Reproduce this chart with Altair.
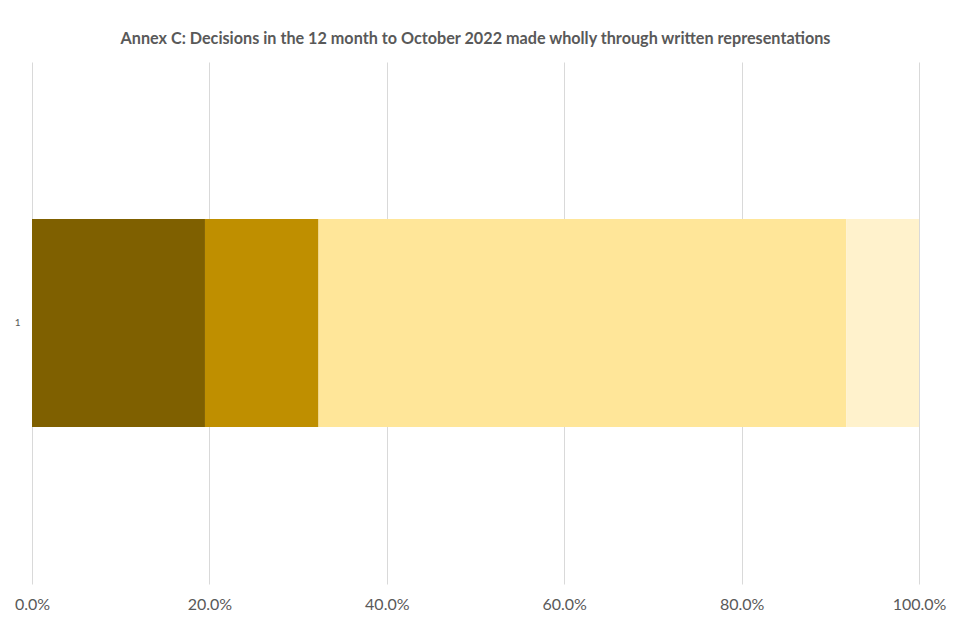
import altair as alt
import pandas as pd

categories = ["1", "1", "1", "1"]
series = ["Series 1", "Series 2", "Series 3", "Series 4"]
values = [0.195, 0.128, 0.595, 0.082]
order = [1, 2, 3, 4]
colors = ["#7F6000", "#BF8F00", "#FFE699", "#FFF2CC"]
tick_values = [0.0, 0.2, 0.4, 0.6, 0.8, 1.0]
title_text = "Annex C: Decisions in the 12 month to October 2022 made wholly through written representations"

df = pd.DataFrame({"category": categories, "series": series, "value": values, "order": order})

chart = alt.Chart(df).mark_bar().encode(
    y=alt.Y("category:N", title=None,
            scale=alt.Scale(paddingInner=0, paddingOuter=0.755),
            axis=alt.Axis(domain=False, ticks=False, grid=False, labelFontSize=10, labelColor="#595959",
                          labelFont="Lato", labelPadding=12, labelAngle=0)),
    x=alt.X("value:Q", stack="zero", title=None,
            scale=alt.Scale(domain=[0, 1], nice=False),
            axis=alt.Axis(values=tick_values, format=".1%", domain=False, ticks=False,
                          grid=True, gridColor="#D9D9D9", gridWidth=1,
                          labelFont="Lato", labelFontSize=16, labelColor="#595959",
                          labelPadding=12, labelFlush=False)),
    color=alt.Color("series:N", scale=alt.Scale(domain=series, range=colors), legend=None),
    order=alt.Order("order:Q"),
).properties(
    width=887,
    height=522,
    background="white",
    title=alt.TitleParams(title_text, font="Lato", fontSize=16.2, fontWeight="bold",
                          color="#595959", anchor="middle", offset=15),
    autosize=alt.AutoSizeParams(type="none"),
    padding={"left": 24, "top": 54, "right": 33, "bottom": 50},
).configure_view(stroke="transparent", strokeWidth=0)

chart.save("out.html", embed_options={"renderer": "svg", "actions": False})
